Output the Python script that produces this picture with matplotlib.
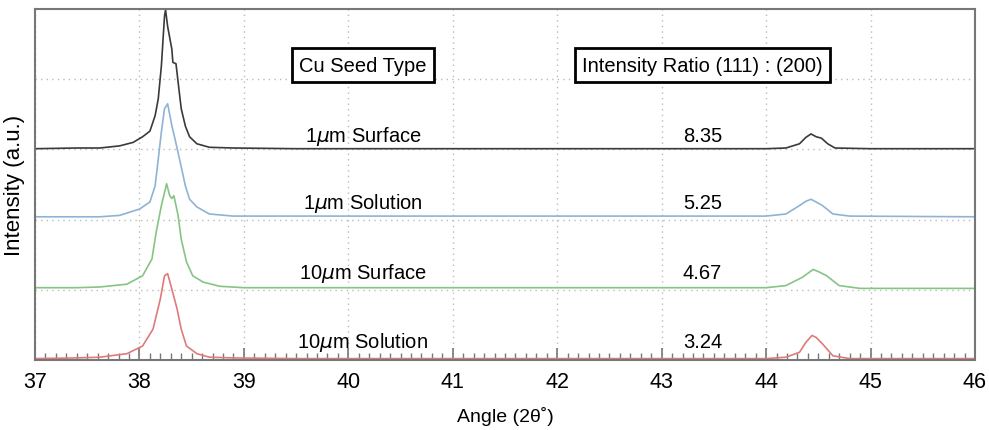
import matplotlib.pyplot as plt
from matplotlib.ticker import MultipleLocator

plt.rcParams['font.family'] = ['Liberation Sans', 'DejaVu Sans']

# Angle (2θ) and stacked intensity (a.u.)
black_angle = [37.0, 37.4, 37.62, 37.81, 37.94, 38.03, 38.10, 38.15, 38.18, 38.21, 38.24,
               38.25, 38.27, 38.31, 38.32, 38.35, 38.37, 38.40, 38.44, 38.48, 38.55,
               38.67, 38.9, 39.5, 44.0, 44.19, 44.32, 44.38, 44.43, 44.48, 44.53, 44.59,
               44.66, 45.0, 46.0]
black_int = [3.01, 3.02, 3.02, 3.05, 3.10, 3.18, 3.26, 3.48, 3.72, 4.19, 4.90,
             4.99, 4.75, 4.43, 4.24, 4.22, 3.96, 3.58, 3.33, 3.18, 3.08,
             3.03, 3.02, 3.01, 3.01, 3.02, 3.08, 3.17, 3.22, 3.18, 3.16, 3.08,
             3.02, 3.01, 3.01]

blue_angle = [37.0, 37.4, 37.62, 37.81, 38.0, 38.10, 38.15, 38.18, 38.21, 38.24, 38.27,
              38.31, 38.34, 38.39, 38.44, 38.48, 38.55, 38.67, 38.9, 39.5, 44.0, 44.19,
              44.32, 44.38, 44.43, 44.48, 44.54, 44.64, 44.8, 46.0]
blue_int = [2.04, 2.04, 2.04, 2.06, 2.15, 2.25, 2.48, 2.86, 3.25, 3.58, 3.65,
            3.34, 3.15, 2.82, 2.48, 2.29, 2.18, 2.08, 2.05, 2.05, 2.05, 2.08,
            2.2, 2.26, 2.29, 2.25, 2.2, 2.08, 2.05, 2.04]

green_angle = [37.0, 37.4, 37.62, 37.88, 38.03, 38.12, 38.16, 38.21, 38.26, 38.29, 38.31,
               38.33, 38.37, 38.40, 38.45, 38.51, 38.61, 38.77, 39.0, 39.5, 44.0, 44.19,
               44.35, 44.45, 44.50, 44.58, 44.70, 44.9, 46.0]
green_int = [1.03, 1.03, 1.04, 1.08, 1.20, 1.44, 1.82, 2.20, 2.51, 2.34, 2.30,
             2.34, 2.06, 1.72, 1.40, 1.20, 1.11, 1.05, 1.03, 1.03, 1.03, 1.06,
             1.18, 1.29, 1.26, 1.2, 1.06, 1.02, 1.02]

red_angle = [37.0, 37.4, 37.62, 37.88, 38.03, 38.13, 38.20, 38.24, 38.27, 38.31, 38.36,
             38.40, 38.45, 38.55, 38.67, 38.9, 39.5, 44.0, 44.19, 44.32, 44.38, 44.44,
             44.48, 44.54, 44.64, 44.8, 46.0]
red_int = [0.02, 0.03, 0.04, 0.09, 0.20, 0.44, 0.87, 1.20, 1.23, 1.01, 0.73,
           0.44, 0.20, 0.09, 0.04, 0.03, 0.02, 0.02, 0.04, 0.11, 0.25, 0.35,
           0.32, 0.23, 0.06, 0.02, 0.02]

seed_types = ['1$\\mu$m Surface', '1$\\mu$m Solution', '10$\\mu$m Surface', '10$\\mu$m Solution']
ratios = ['8.35', '5.25', '4.67', '3.24']
label_y = [3.2, 2.24, 1.25, 0.26]

fig = plt.figure(figsize=(9.89, 4.31), dpi=100)
ax = fig.add_axes([0.0354, 0.1624, 0.9504, 0.8144])

ax.plot(black_angle, black_int, color='#3a3a3a', lw=1.2)
ax.plot(blue_angle, blue_int, color='#8fb3d6', lw=1.2)
ax.plot(green_angle, green_int, color='#86c486', lw=1.2)
ax.plot(red_angle, red_int, color='#e07a7a', lw=1.2)

ax.set_xlim(37, 46)
ax.set_ylim(0, 5)
ax.xaxis.set_major_locator(MultipleLocator(1))
ax.xaxis.set_minor_locator(MultipleLocator(0.1))
ax.set_yticks([1, 2, 3, 4])
ax.set_yticklabels([])
ax.tick_params(axis='y', length=0)
ax.tick_params(axis='x', which='major', direction='in', length=9, width=1.2,
               color='#777777', labelsize=15.5, pad=8)
ax.tick_params(axis='x', which='minor', direction='in', length=5, width=1.0,
               color='#777777')
ax.grid(True, which='major', color='#bbbbbb', linestyle=(0, (1, 3)), linewidth=1.0)
ax.set_axisbelow(True)
for s in ax.spines.values():
    s.set_color('#777777')
    s.set_linewidth(1.5)

ax.set_xlabel('Angle (2θ˚)', fontsize=14, labelpad=10)
ax.set_ylabel('Intensity (a.u.)', fontsize=16, labelpad=4)

box = dict(boxstyle='square,pad=0.36', fc='white', ec='black', lw=2)
ax.text(40.14, 4.2, 'Cu Seed Type', fontsize=14.5, ha='center', va='center', bbox=box)
ax.text(43.39, 4.2, 'Intensity Ratio (111) : (200)', fontsize=14.5, ha='center',
        va='center', bbox=box)
for name, r, y in zip(seed_types, ratios, label_y):
    ax.text(40.14, y, name, fontsize=14.5, ha='center', va='center')
    ax.text(43.39, y, r, fontsize=14.5, ha='center', va='center')

fig.savefig('out.png', dpi=100)
